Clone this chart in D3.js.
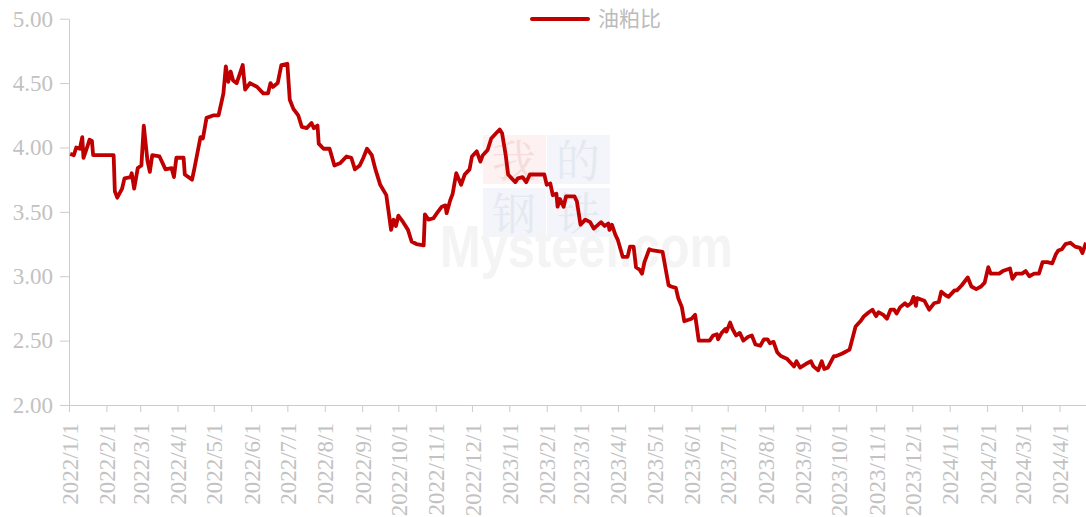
<!DOCTYPE html>
<html>
<head>
<meta charset="utf-8">
<script src="https://cdn.jsdelivr.net/npm/d3@7"></script>
<style>
  body { margin: 0; background: #fff; }
  svg { display: block; }
  .axis path, .axis line { stroke: #cccccc; }
  .axis text { fill: #c2c2c2; font-family: "Liberation Serif", "Times New Roman", serif; font-size: 23px; }
</style>
</head>
<body>
<div id="chart"></div>
<script>
var width = 1086,
    height = 517;

var seriesName = "油粕比";

var dates = [
  "2022-01-02","2022-01-05","2022-01-07","2022-01-10","2022-01-12","2022-01-13","2022-01-16","2022-01-18","2022-01-20","2022-01-21",
  "2022-02-07","2022-02-08","2022-02-10","2022-02-14","2022-02-16","2022-02-21","2022-02-22","2022-02-24","2022-02-27",
  "2022-03-02","2022-03-04","2022-03-07","2022-03-09","2022-03-11","2022-03-17","2022-03-22","2022-03-27","2022-03-29","2022-03-31",
  "2022-04-06","2022-04-07","2022-04-13","2022-04-15","2022-04-20","2022-04-22","2022-04-25",
  "2022-05-01","2022-05-05","2022-05-09","2022-05-11","2022-05-13","2022-05-15","2022-05-17","2022-05-20","2022-05-25","2022-05-27","2022-05-31",
  "2022-06-06","2022-06-11","2022-06-15","2022-06-17","2022-06-19","2022-06-23","2022-06-26",
  "2022-07-01","2022-07-03","2022-07-06","2022-07-10","2022-07-13","2022-07-17","2022-07-21","2022-07-23","2022-07-26","2022-07-27","2022-07-31",
  "2022-08-05","2022-08-09","2022-08-14","2022-08-19","2022-08-23","2022-08-26","2022-08-30",
  "2022-09-02","2022-09-05","2022-09-09","2022-09-12","2022-09-16","2022-09-21","2022-09-25","2022-09-27","2022-09-29",
  "2022-10-01","2022-10-05","2022-10-09","2022-10-12","2022-10-16","2022-10-22","2022-10-23","2022-10-26","2022-10-30",
  "2022-11-02","2022-11-06","2022-11-09","2022-11-10","2022-11-13","2022-11-15","2022-11-18","2022-11-22","2022-11-25","2022-11-29",
  "2022-12-01","2022-12-05","2022-12-08","2022-12-10","2022-12-14","2022-12-17","2022-12-21","2022-12-24","2022-12-26","2022-12-29","2022-12-31",
  "2023-01-06","2023-01-08","2023-01-12","2023-01-15","2023-01-18","2023-01-30",
  "2023-02-01","2023-02-04","2023-02-06","2023-02-09","2023-02-10","2023-02-12","2023-02-15","2023-02-17","2023-02-24","2023-02-26",
  "2023-03-01","2023-03-05","2023-03-09","2023-03-12","2023-03-18","2023-03-21","2023-03-24","2023-03-25","2023-03-27","2023-03-30",
  "2023-04-01","2023-04-05","2023-04-09","2023-04-11","2023-04-14","2023-04-16","2023-04-19","2023-04-21","2023-04-23","2023-04-27","2023-04-30",
  "2023-05-08","2023-05-13","2023-05-15","2023-05-19","2023-05-21","2023-05-24","2023-05-26","2023-05-29",
  "2023-06-01","2023-06-04","2023-06-07","2023-06-11","2023-06-16","2023-06-19","2023-06-22","2023-06-23","2023-06-26","2023-06-29","2023-06-30",
  "2023-07-03","2023-07-05","2023-07-08","2023-07-11","2023-07-14","2023-07-18","2023-07-21","2023-07-24","2023-07-28","2023-07-31",
  "2023-08-03","2023-08-05","2023-08-08","2023-08-11","2023-08-14","2023-08-19","2023-08-22","2023-08-25","2023-08-27","2023-08-30",
  "2023-09-04","2023-09-08","2023-09-10","2023-09-14","2023-09-17","2023-09-19","2023-09-22","2023-09-27","2023-09-29",
  "2023-10-04","2023-10-10","2023-10-15","2023-10-19","2023-10-22","2023-10-26","2023-10-29",
  "2023-11-01","2023-11-03","2023-11-07","2023-11-10","2023-11-13","2023-11-16","2023-11-18","2023-11-21","2023-11-25","2023-11-27","2023-11-30",
  "2023-12-02","2023-12-04","2023-12-05","2023-12-11","2023-12-15","2023-12-19","2023-12-23","2023-12-25","2023-12-29","2023-12-31",
  "2024-01-05","2024-01-07","2024-01-11","2024-01-16","2024-01-19","2024-01-23","2024-01-27","2024-01-30",
  "2024-02-02","2024-02-04","2024-02-11","2024-02-14","2024-02-20","2024-02-22","2024-02-25",
  "2024-03-01","2024-03-04","2024-03-07","2024-03-11","2024-03-15","2024-03-18","2024-03-22","2024-03-26","2024-03-29","2024-03-31",
  "2024-04-03","2024-04-06","2024-04-10","2024-04-14","2024-04-18","2024-04-20","2024-04-23"
];

var ratio = [
  3.95,3.94,4.00,3.99,4.08,3.92,4.00,4.06,4.05,3.94,
  3.94,3.66,3.61,3.68,3.76,3.77,3.80,3.68,3.84,
  3.86,4.17,3.90,3.81,3.94,3.93,3.83,3.84,3.77,3.92,
  3.92,3.79,3.75,3.84,4.08,4.07,4.23,
  4.25,4.25,4.42,4.63,4.51,4.59,4.52,4.50,4.64,4.45,4.50,
  4.47,4.42,4.42,4.50,4.47,4.50,4.64,
  4.65,4.37,4.30,4.25,4.16,4.15,4.19,4.15,4.17,4.03,3.99,
  3.99,3.86,3.88,3.93,3.92,3.83,3.86,
  3.92,3.99,3.94,3.83,3.71,3.63,3.36,3.44,3.39,
  3.47,3.42,3.36,3.27,3.25,3.24,3.48,3.44,3.45,
  3.49,3.54,3.55,3.49,3.59,3.64,3.80,3.71,3.79,3.83,
  3.93,3.97,3.89,3.94,3.98,4.07,4.11,4.14,4.11,3.94,3.79,
  3.73,3.76,3.77,3.73,3.79,3.79,
  3.71,3.72,3.63,3.64,3.54,3.60,3.54,3.62,3.62,3.58,
  3.40,3.44,3.42,3.37,3.42,3.39,3.41,3.36,3.40,3.32,
  3.28,3.15,3.15,3.23,3.23,3.07,3.05,3.02,3.11,3.21,3.20,
  3.19,2.93,2.92,2.91,2.83,2.76,2.65,2.66,
  2.67,2.70,2.50,2.50,2.50,2.54,2.55,2.51,2.56,2.59,2.57,
  2.64,2.59,2.54,2.56,2.50,2.53,2.54,2.47,2.46,2.51,
  2.51,2.48,2.49,2.41,2.38,2.36,2.33,2.30,2.34,2.29,
  2.32,2.34,2.30,2.27,2.34,2.28,2.29,2.38,2.38,
  2.40,2.43,2.61,2.65,2.69,2.72,2.74,
  2.69,2.72,2.70,2.67,2.74,2.74,2.71,2.76,2.79,2.77,2.79,
  2.84,2.77,2.83,2.81,2.74,2.79,2.80,2.88,2.85,2.84,
  2.89,2.89,2.93,2.99,2.92,2.90,2.92,2.95,
  3.07,3.02,3.02,3.04,3.06,2.98,3.02,
  3.02,3.04,3.00,3.02,3.02,3.11,3.11,3.10,3.17,3.20,
  3.21,3.25,3.26,3.23,3.22,3.18,3.26
];

var yTicks = [2.00, 2.50, 3.00, 3.50, 4.00, 4.50, 5.00];

var parseDate = d3.timeParse("%Y-%m-%d");
var data = dates.map(function(d, i) { return {date: parseDate(d), value: ratio[i]}; });

var x = d3.scaleTime()
    .domain([parseDate("2022-01-01"), parseDate("2024-04-23")])
    .range([69, width]);

var y = d3.scaleLinear()
    .domain([2, 5])
    .range([405, 18.7]);

var svg = d3.select("#chart").append("svg")
    .attr("width", width)
    .attr("height", height);

// watermark (very faint logo behind the line)
var wm = svg.append("g").attr("class", "watermark");
var cells = [
  {t: "我", x: 483, y: 135, fill: "#fdf1f1", ink: "#f7dcdc"},
  {t: "的", x: 547, y: 135, fill: "#f3f5fa", ink: "#e4e9f1"},
  {t: "钢", x: 483, y: 188, fill: "#f3f5fa", ink: "#e4e9f1"},
  {t: "铁", x: 547, y: 188, fill: "#f3f5fa", ink: "#e4e9f1"}
];
wm.selectAll("rect")
    .data(cells)
  .enter().append("rect")
    .attr("x", function(d) { return d.x; })
    .attr("y", function(d) { return d.y; })
    .attr("width", 63)
    .attr("height", 49)
    .attr("fill", function(d) { return d.fill; });
wm.selectAll("text.cell")
    .data(cells)
  .enter().append("text")
    .attr("class", "cell")
    .attr("x", function(d) { return d.x + 31; })
    .attr("y", function(d) { return d.y + 42; })
    .attr("text-anchor", "middle")
    .style("font-family", "'Noto Serif CJK SC', 'Noto Sans CJK SC', serif")
    .style("font-size", "44px")
    .style("fill", function(d) { return d.ink; })
    .text(function(d) { return d.t; });
wm.append("text")
    .attr("x", 440)
    .attr("y", 267)
    .attr("textLength", 293)
    .attr("lengthAdjust", "spacingAndGlyphs")
    .style("font-family", "'Liberation Sans', Arial, sans-serif")
    .style("font-size", "60px")
    .style("font-weight", "bold")
    .style("fill", "#f4f4f4")
    .text("Mysteel.com");

var xAxis = d3.axisBottom(x)
    .ticks(d3.timeMonth.every(1))
    .tickFormat(d3.timeFormat("%Y/%-m/%-d"))
    .tickSize(7)
    .tickSizeOuter(0);

var yAxis = d3.axisLeft(y)
    .tickValues(yTicks)
    .tickFormat(d3.format(".2f"))
    .tickSize(9)
    .tickPadding(7)
    .tickSizeOuter(0);

svg.append("g")
    .attr("class", "x axis")
    .attr("transform", "translate(0," + y(2) + ")")
    .call(xAxis)
  .selectAll("text")
    .attr("transform", "rotate(-90)")
    .attr("text-anchor", "end")
    .attr("x", -18)
    .attr("y", 0)
    .attr("dy", "0.35em");

svg.append("g")
    .attr("class", "y axis")
    .attr("transform", "translate(69,0)")
    .call(yAxis);

var line = d3.line()
    .x(function(d) { return x(d.date); })
    .y(function(d) { return y(d.value); });

svg.append("path")
    .datum(data)
    .attr("fill", "none")
    .attr("stroke", "#c00000")
    .attr("stroke-width", 3.8)
    .attr("stroke-linejoin", "round")
    .attr("d", line);

// legend
var legend = svg.append("g").attr("class", "legend");
legend.append("line")
    .attr("x1", 532)
    .attr("x2", 588)
    .attr("y1", 19)
    .attr("y2", 19)
    .attr("stroke", "#c00000")
    .attr("stroke-width", 4)
    .attr("stroke-linecap", "round");
legend.append("text")
    .attr("x", 598)
    .attr("y", 26)
    .style("font-family", "'Noto Sans CJK SC', sans-serif")
    .style("font-size", "21px")
    .style("fill", "#bbbbbb")
    .text(seriesName);
</script>
</body>
</html>
